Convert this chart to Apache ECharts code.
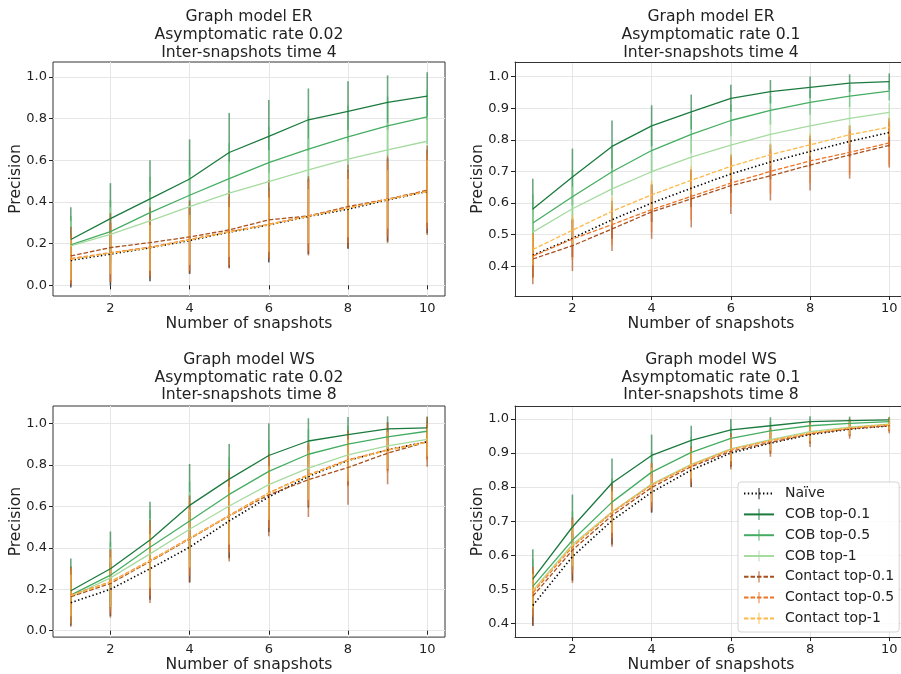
<!DOCTYPE html>
<html lang="en">
<head>
<meta charset="UTF-8">
<title>Precision vs number of snapshots</title>
<script src="https://cdn.jsdelivr.net/npm/echarts@6/dist/echarts.min.js"></script>
<style>
	html, body { margin: 0; padding: 0; background: #fff; }
	#chart { width: 901px; height: 674px; }
</style>
</head>
<body>
<div id="chart"></div>
<script>
	var snapshots = [1, 2, 3, 4, 5, 6, 7, 8, 9, 10];
	var methodNames = ['Naïve', 'COB top-0.1', 'COB top-0.5', 'COB top-1', 'Contact top-0.1', 'Contact top-0.5', 'Contact top-1'];
	var panelTitles = [
		'Graph model ER\nAsymptomatic rate 0.02\nInter-snapshots time 4',
		'Graph model ER\nAsymptomatic rate 0.1\nInter-snapshots time 4',
		'Graph model WS\nAsymptomatic rate 0.02\nInter-snapshots time 8',
		'Graph model WS\nAsymptomatic rate 0.1\nInter-snapshots time 8'
	];
	var xTicks = [2, 4, 6, 8, 10];
	var yTicksWide = [0, 0.2, 0.4, 0.6, 0.8, 1.0];
	var yTicksNarrow = [0.4, 0.5, 0.6, 0.7, 0.8, 0.9, 1.0];

	// ER, asymptomatic 0.02 (order follows methodNames)
	var erLowMean = [
		[0.12, 0.15, 0.18, 0.215, 0.255, 0.29, 0.33, 0.365, 0.41, 0.45],
		[0.22, 0.32, 0.415, 0.51, 0.637, 0.714, 0.794, 0.834, 0.877, 0.907],
		[0.194, 0.258, 0.349, 0.432, 0.512, 0.589, 0.653, 0.712, 0.765, 0.808],
		[0.189, 0.245, 0.309, 0.378, 0.442, 0.498, 0.554, 0.605, 0.65, 0.691],
		[0.141, 0.181, 0.205, 0.232, 0.266, 0.314, 0.333, 0.378, 0.413, 0.456],
		[0.128, 0.157, 0.183, 0.22, 0.258, 0.293, 0.333, 0.372, 0.413, 0.452],
		[0.125, 0.154, 0.18, 0.218, 0.256, 0.291, 0.331, 0.37, 0.412, 0.45]
	];
	var erLowErr = [
		[0.13, 0.15, 0.16, 0.16, 0.17, 0.18, 0.18, 0.19, 0.2, 0.2],
		[0.155, 0.17, 0.185, 0.19, 0.19, 0.175, 0.15, 0.145, 0.13, 0.115],
		[0.14, 0.15, 0.17, 0.17, 0.17, 0.17, 0.16, 0.15, 0.14, 0.13],
		[0.12, 0.13, 0.14, 0.15, 0.15, 0.15, 0.15, 0.14, 0.13, 0.12],
		[0.14, 0.165, 0.17, 0.175, 0.185, 0.19, 0.19, 0.2, 0.21, 0.215],
		[0.12, 0.14, 0.14, 0.15, 0.16, 0.16, 0.17, 0.17, 0.18, 0.18],
		[0.1, 0.1, 0.11, 0.12, 0.12, 0.13, 0.13, 0.14, 0.14, 0.15]
	];

	// ER, asymptomatic 0.1
	var erHighMean = [
		[0.435, 0.489, 0.547, 0.6, 0.647, 0.692, 0.73, 0.763, 0.795, 0.823],
		[0.581, 0.682, 0.779, 0.844, 0.888, 0.931, 0.952, 0.966, 0.979, 0.984],
		[0.537, 0.62, 0.699, 0.766, 0.817, 0.861, 0.893, 0.918, 0.938, 0.954],
		[0.508, 0.582, 0.645, 0.699, 0.745, 0.783, 0.817, 0.844, 0.868, 0.887],
		[0.423, 0.465, 0.518, 0.572, 0.613, 0.655, 0.686, 0.72, 0.752, 0.782],
		[0.432, 0.486, 0.532, 0.579, 0.621, 0.663, 0.7, 0.733, 0.76, 0.79],
		[0.453, 0.514, 0.574, 0.626, 0.672, 0.716, 0.753, 0.784, 0.816, 0.84]
	];
	var erHighErr = [
		[0.07, 0.06, 0.06, 0.06, 0.06, 0.06, 0.055, 0.05, 0.05, 0.045],
		[0.096, 0.09, 0.082, 0.065, 0.055, 0.043, 0.037, 0.034, 0.028, 0.026],
		[0.09, 0.085, 0.075, 0.07, 0.06, 0.05, 0.045, 0.04, 0.035, 0.03],
		[0.07, 0.07, 0.065, 0.06, 0.055, 0.05, 0.045, 0.04, 0.035, 0.03],
		[0.08, 0.08, 0.07, 0.085, 0.09, 0.09, 0.078, 0.08, 0.075, 0.07],
		[0.07, 0.065, 0.065, 0.07, 0.075, 0.075, 0.07, 0.07, 0.07, 0.07],
		[0.05, 0.05, 0.045, 0.045, 0.045, 0.04, 0.035, 0.035, 0.03, 0.03]
	];

	// WS, asymptomatic 0.02
	var wsLowMean = [
		[0.135, 0.2, 0.299, 0.403, 0.53, 0.646, 0.745, 0.822, 0.873, 0.912],
		[0.193, 0.299, 0.438, 0.605, 0.732, 0.846, 0.916, 0.947, 0.975, 0.979],
		[0.172, 0.268, 0.403, 0.53, 0.658, 0.769, 0.852, 0.901, 0.936, 0.963],
		[0.164, 0.255, 0.371, 0.49, 0.602, 0.705, 0.785, 0.849, 0.892, 0.924],
		[0.164, 0.228, 0.334, 0.443, 0.554, 0.656, 0.729, 0.788, 0.857, 0.912],
		[0.172, 0.236, 0.339, 0.447, 0.557, 0.666, 0.753, 0.825, 0.873, 0.912],
		[0.17, 0.234, 0.337, 0.445, 0.555, 0.664, 0.75, 0.822, 0.871, 0.91]
	];
	var wsLowErr = [
		[0.11, 0.13, 0.15, 0.17, 0.18, 0.17, 0.15, 0.12, 0.1, 0.08],
		[0.155, 0.18, 0.185, 0.2, 0.17, 0.155, 0.11, 0.085, 0.06, 0.055],
		[0.14, 0.16, 0.18, 0.19, 0.18, 0.15, 0.12, 0.09, 0.07, 0.05],
		[0.13, 0.15, 0.17, 0.18, 0.17, 0.15, 0.13, 0.1, 0.08, 0.06],
		[0.145, 0.165, 0.2, 0.21, 0.22, 0.2, 0.18, 0.18, 0.15, 0.12],
		[0.13, 0.15, 0.17, 0.18, 0.18, 0.17, 0.15, 0.13, 0.11, 0.09],
		[0.1, 0.12, 0.13, 0.14, 0.14, 0.13, 0.12, 0.1, 0.09, 0.07]
	];

	// WS, asymptomatic 0.1
	var wsHighMean = [
		[0.453, 0.596, 0.702, 0.785, 0.85, 0.9, 0.929, 0.954, 0.97, 0.98],
		[0.53, 0.683, 0.812, 0.893, 0.937, 0.968, 0.98, 0.992, 0.995, 0.997],
		[0.509, 0.644, 0.756, 0.844, 0.902, 0.943, 0.965, 0.98, 0.987, 0.992],
		[0.497, 0.632, 0.728, 0.809, 0.867, 0.912, 0.939, 0.963, 0.976, 0.985],
		[0.48, 0.615, 0.717, 0.799, 0.86, 0.905, 0.931, 0.956, 0.971, 0.98],
		[0.49, 0.625, 0.725, 0.806, 0.864, 0.91, 0.936, 0.958, 0.973, 0.983],
		[0.495, 0.628, 0.727, 0.807, 0.865, 0.911, 0.937, 0.959, 0.974, 0.984]
	];
	var wsHighErr = [
		[0.06, 0.07, 0.07, 0.06, 0.05, 0.04, 0.03, 0.025, 0.02, 0.015],
		[0.088, 0.095, 0.072, 0.061, 0.043, 0.032, 0.025, 0.016, 0.012, 0.009],
		[0.08, 0.085, 0.07, 0.06, 0.045, 0.035, 0.028, 0.02, 0.015, 0.012],
		[0.07, 0.075, 0.065, 0.055, 0.045, 0.035, 0.03, 0.022, 0.017, 0.013],
		[0.087, 0.096, 0.092, 0.071, 0.059, 0.053, 0.042, 0.038, 0.029, 0.022],
		[0.07, 0.08, 0.075, 0.065, 0.05, 0.045, 0.035, 0.03, 0.025, 0.02],
		[0.05, 0.06, 0.06, 0.05, 0.04, 0.035, 0.03, 0.025, 0.02, 0.016]
	];

	var colors = ['#000000', '#1b7a3e', '#45ad62', '#a6dba0', '#a8501e', '#ee7425', '#fdba4a'];
	var lineTypes = ['dotted', 'solid', 'solid', 'solid', 'dashed', 'dashed', 'dashed'];
	var font = 'DejaVu Sans';
	// thin vertical bar in a square box, used as legend marker (error bar look)
	var barIcon = 'path://M0,0M10,10M4.6,0h0.8v10h-0.8z';

	// right-hand panels are cut off by the figure edge, so their x range stops early
	var panels = [
		{mean: erLowMean, err: erLowErr, yMin: -0.051, yMax: 1.071, yTicks: yTicksWide, left: 53, width: 392, xMax: 10.45, top: 62, height: 234, titleTop: 8.5, clipped: false},
		{mean: erHighMean, err: erHighErr, yMin: 0.306, yMax: 1.046, yTicks: yTicksNarrow, left: 515, width: 386, xMax: 10.297, top: 62, height: 234, titleTop: 8.5, clipped: true},
		{mean: wsLowMean, err: wsLowErr, yMin: -0.031, yMax: 1.085, yTicks: yTicksWide, left: 53, width: 392, xMax: 10.45, top: 406, height: 233, titleTop: 351, clipped: false},
		{mean: wsHighMean, err: wsHighErr, yMin: 0.36, yMax: 1.038, yTicks: yTicksNarrow, left: 515, width: 386, xMax: 10.297, top: 406, height: 233, titleTop: 351, clipped: true}
	];

	function dashOf(type) {
		if (type === 'dotted') return [1.4, 2.4];
		if (type === 'dashed') return [4.5, 2];
		return 'solid';
	}

	function errorRenderer(color) {
		return function (params, api) {
			var x = api.value(0);
			var lo = api.coord([x, api.value(1)]);
			var hi = api.coord([x, api.value(2)]);
			return {
				type: 'line',
				shape: {x1: lo[0], y1: lo[1], x2: hi[0], y2: hi[1]},
				style: {stroke: color, lineWidth: 1.6, opacity: 0.65}
			};
		};
	}

	var grids = [], xAxes = [], yAxes = [], titles = [], series = [], spines = [];
	var spineStyle = {color: '#333', width: 1};
	panels.forEach(function (p, pi) {
		grids.push({left: p.left, top: p.top, width: p.width, height: p.height,
			show: !p.clipped, borderColor: '#333', borderWidth: 1, backgroundColor: 'transparent'});
		titles.push({text: panelTitles[pi], left: p.left + 196, top: p.titleTop, textAlign: 'center', padding: 0,
			textStyle: {fontFamily: font, fontSize: 15.6, fontWeight: 'normal', lineHeight: 17.7, color: '#222'}});
		xAxes.push({type: 'value', gridIndex: pi, min: 0.55, max: p.xMax,
			name: 'Number of snapshots', nameLocation: 'middle', nameGap: 18,
			nameTextStyle: {fontFamily: font, fontSize: 15.6, color: '#222', padding: p.clipped ? [0, 0, 0, 6] : 0},
			axisLine: {show: p.clipped, lineStyle: spineStyle},
			axisTick: {show: true, length: 4, customValues: xTicks, lineStyle: {color: '#222'}},
			axisLabel: {customValues: xTicks, margin: 6, fontFamily: font, fontSize: 13, color: '#222'},
			splitLine: {show: true, lineStyle: {color: '#e6e6e6', width: 1}}
		});
		yAxes.push({type: 'value', gridIndex: pi, min: p.yMin, max: p.yMax,
			name: 'Precision', nameLocation: 'middle', nameGap: 29, nameMoveOverlap: false,
			nameTextStyle: {fontFamily: font, fontSize: 15.6, color: '#222'},
			axisLine: {show: p.clipped, lineStyle: spineStyle},
			axisTick: {show: true, length: 4, customValues: p.yTicks, lineStyle: {color: '#222'}},
			axisLabel: {customValues: p.yTicks, margin: 6, fontFamily: font, fontSize: 13, color: '#222',
				formatter: function (v) { return v.toFixed(1); }},
			splitLine: {show: true, lineStyle: {color: '#e6e6e6', width: 1}}
		});
		if (p.clipped) {
			// top spine only, no right spine (it is past the edge)
			spines.push({type: 'value', gridIndex: pi, position: 'top', min: 0.55, max: p.xMax,
				axisLine: {show: true, lineStyle: spineStyle}, axisTick: {show: false},
				axisLabel: {show: false}, splitLine: {show: false}});
		}
		methodNames.forEach(function (name, mi) {
			series.push({
				type: 'line', name: name, xAxisIndex: pi, yAxisIndex: pi,
				data: snapshots.map(function (x, i) { return [x, p.mean[mi][i]]; }),
				showSymbol: false, symbol: barIcon, silent: true,
				lineStyle: {color: colors[mi], width: mi === 0 ? 1.6 : 1.3, type: dashOf(lineTypes[mi])},
				itemStyle: {color: colors[mi]}
			});
			series.push({
				type: 'custom', name: name + ' error', xAxisIndex: pi, yAxisIndex: pi,
				data: snapshots.map(function (x, i) {
					return [x, p.mean[mi][i] - p.err[mi][i], p.mean[mi][i] + p.err[mi][i]];
				}),
				encode: {x: 0, y: [1, 2]}, silent: true,
				renderItem: errorRenderer(colors[mi])
			});
		});
	});

	var chart = echarts.init(document.getElementById('chart'), null, {renderer: 'canvas'});
	chart.setOption({
		animation: false,
		backgroundColor: '#fff',
		title: titles,
		grid: grids,
		xAxis: xAxes.concat(spines),
		yAxis: yAxes,
		legend: {
			data: methodNames, orient: 'vertical', left: 738, top: 482,
			itemWidth: 30, itemHeight: 14, itemGap: 6.8, padding: [4.6, 5, 6.6, 5],
			selectedMode: false,
			backgroundColor: 'rgba(255,255,255,0.85)', borderColor: '#d5d5d5', borderWidth: 1, borderRadius: 3,
			textStyle: {fontFamily: font, fontSize: 14, color: '#222', padding: [0, 0, 0, 6]}
		},
		series: series
	});
</script>
</body>
</html>
